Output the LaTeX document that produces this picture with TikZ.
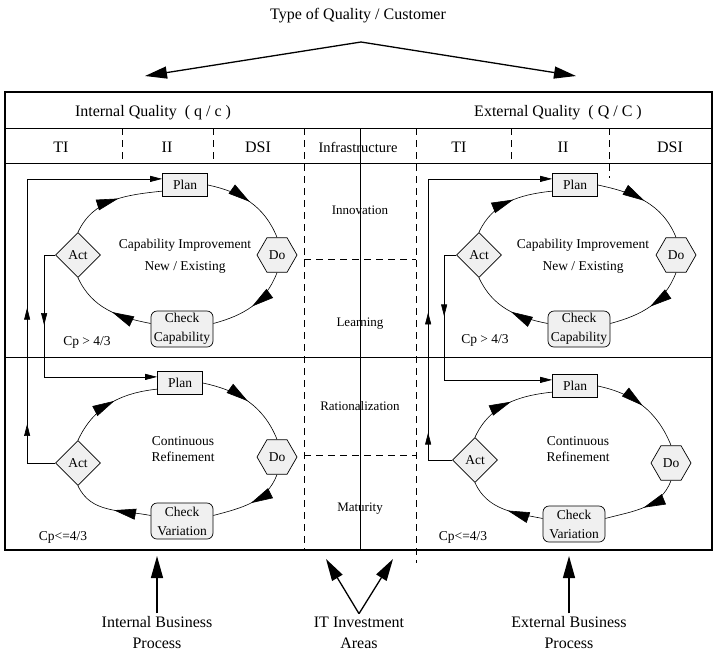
\documentclass[tikz,border=0pt]{standalone}
\usepackage{fontspec}
\setmainfont{Liberation Serif}
\usetikzlibrary{shapes.geometric,arrows.meta,decorations.markings}

\begin{document}
\begin{tikzpicture}[x=1pt,y=-1pt,
    every node/.style={font=\fontsize{13.5}{16}\selectfont},
    headtext/.style={font=\fontsize{16}{21}\selectfont, align=center},
    colltext/.style={font=\fontsize{13}{16}\selectfont},
    gridline/.style={line width=0.9pt},
    dashline/.style={line width=0.9pt, dash pattern=on 7pt off 5pt},
    planbox/.style={draw, line width=0.7pt, fill=gray!12, minimum width=45pt, minimum height=23pt, inner sep=1pt},
    dobox/.style={draw, line width=0.7pt, fill=gray!12, regular polygon, regular polygon sides=6, minimum size=40pt, inner sep=0pt},
    actbox/.style={draw, line width=0.7pt, fill=gray!12, diamond, minimum width=45pt, minimum height=45pt, inner sep=0pt},
    checkbox/.style={draw, line width=0.7pt, fill=gray!12, rounded corners=6pt, minimum width=62pt, minimum height=36pt, inner sep=1pt, align=center, font=\fontsize{13.5}{19}\selectfont},
    arcmark/.style={line width=0.6pt, postaction={decorate}, decoration={markings, mark=at position #1 with {\arrow{Triangle[length=22pt,width=11pt]}}}},
    flowline/.style={line width=0.6pt, -{Triangle[length=12pt,width=6pt]}},
    flowmark/.style={postaction={decorate, decoration={markings, mark=at position #1 with {\arrow{Triangle[length=12pt,width=6pt]}}}}},
    bigarrow/.style={line width=1.3pt, -{Triangle[length=22pt,width=12pt]}}
]
    \useasboundingbox (0,0) rectangle (714,657);

% quality type
    \node[headtext] (type) at (358,16) {Type of Quality / Customer};
    \coordinate (apex) at (361,42);
    \coordinate (intTip) at (145,76);
    \coordinate (extTip) at (576,76);
    \draw[bigarrow] (apex) -- (intTip);
    \draw[bigarrow] (apex) -- (extTip);

% frame
    \draw[line width=1.6pt] (5,92) rectangle (712,550);
    \draw[gridline] (5,128) -- (712,128);
    \draw[gridline] (5,163) -- (712,163);
    \draw[gridline] (5,357) -- (712,357);
    \draw[gridline] (360,128) -- (360,550);
    \draw[dashline] (304,128) -- (304,550);
    \draw[dashline] (416,128) -- (416,563);
    \draw[dashline] (122,128) -- (122,163);
    \draw[dashline] (213,128) -- (213,163);
    \draw[dashline] (511,128) -- (511,163);
    \draw[dashline] (609,128) -- (609,178);
    \draw[dashline] (304,259) -- (416,259);
    \draw[dashline] (304,455) -- (416,455);

    \node[headtext] (intQ) at (153,113) {Internal Quality\enspace( q / c )};
    \node[headtext] (extQ) at (558,113) {External Quality\enspace( Q / C )};

    \node[headtext] (TI1) at (61,147) {TI};
    \node[headtext] (II1) at (167,147) {II};
    \node[headtext] (DSI1) at (258,147) {DSI};
    \node[font=\fontsize{14.5}{16}\selectfont] (infra) at (358,147) {Infrastructure};
    \node[headtext] (TI2) at (459,147) {TI};
    \node[headtext] (II2) at (563,147) {II};
    \node[headtext] (DSI2) at (670,147) {DSI};

    \node[colltext] (innov) at (360,210) {Innovation};
    \node[colltext] (learn) at (360,324) {Learning};
    \node[colltext] (ratio) at (360,406) {Rationalization};
    \node[colltext] (matur) at (360,509) {Maturity};

% internal, capability improvement
    \node[planbox] (P1) at (185,185) {Plan};
    \node[dobox] (D1) at (277,255) {Do};
    \node[checkbox] (C1) at (182,329) {Check\\Capability};
    \node[actbox] (A1) at (78,255) {Act};
    \draw[arcmark=0.55] (A1.north) to[out=65,in=186] (P1.195);
    \draw[arcmark=0.5] (P1.east) to[out=-12,in=112] (D1.north);
    \draw[arcmark=0.5] (D1.south) to[out=-111,in=15] (C1.10);
    \draw[arcmark=0.45] (C1.170) to[out=169,in=-65] (A1.south);
    \node[align=center] (ci1) at (185,256) {Capability Improvement\\[6pt]New / Existing};
    \node (cp1) at (87,342) {Cp > 4/3};

% internal, continuous refinement
    \node[planbox] (P2) at (180,383) {Plan};
    \node[dobox] (D2) at (277,457) {Do};
    \node[checkbox] (C2) at (182,521) {Check\\Variation};
    \node[actbox] (A2) at (78,463) {Act};
    \draw[arcmark=0.55] (A2.north) to[out=65,in=186] (P2.195);
    \draw[arcmark=0.5] (P2.east) to[out=-12,in=112] (D2.north);
    \draw[arcmark=0.5] (D2.south) to[out=-111,in=15] (C2.10);
    \draw[arcmark=0.45] (C2.170) to[out=169,in=-65] (A2.south);
    \node[align=center] (cr1) at (183,449) {Continuous\\Refinement};
    \node (cp2) at (63,537) {Cp<=4/3};

    \draw[flowline, flowmark=0.33] (A1.west) -- ++(-11,0) |- (P2.165);
    \draw[flowline, flowmark=0.15, flowmark=0.41] (A2.west) -- ++(-28,0) |- (P1.165);

% external, capability improvement
    \node[planbox] (P3) at (575,185) {Plan};
    \node[dobox] (D3) at (676,255) {Do};
    \node[checkbox] (C3) at (579,329) {Check\\Capability};
    \node[actbox] (A3) at (479,255) {Act};
    \draw[arcmark=0.55] (A3.north) to[out=65,in=186] (P3.195);
    \draw[arcmark=0.5] (P3.east) to[out=-12,in=112] (D3.north);
    \draw[arcmark=0.5] (D3.south) to[out=-111,in=15] (C3.10);
    \draw[arcmark=0.45] (C3.170) to[out=169,in=-65] (A3.south);
    \node[align=center] (ci2) at (583,256) {Capability Improvement\\[6pt]New / Existing};
    \node (cp3) at (485,340) {Cp > 4/3};

% external, continuous refinement
    \node[planbox] (P4) at (575,386) {Plan};
    \node[dobox] (D4) at (671,463) {Do};
    \node[checkbox] (C4) at (574,524) {Check\\Variation};
    \node[actbox] (A4) at (475,460) {Act};
    \draw[arcmark=0.55] (A4.north) to[out=65,in=186] (P4.195);
    \draw[arcmark=0.5] (P4.east) to[out=-12,in=112] (D4.north);
    \draw[arcmark=0.5] (D4.south) to[out=-111,in=15] (C4.10);
    \draw[arcmark=0.45] (C4.170) to[out=169,in=-65] (A4.south);
    \node[align=center] (cr2) at (578,449) {Continuous\\Refinement};
    \node (cp4) at (463,537) {Cp<=4/3};

    \draw[flowline, flowmark=0.30] (A3.west) -- ++(-12,0) |- (P4.165);
    \draw[flowline, flowmark=0.12, flowmark=0.40] (A4.west) -- ++(-24,0) |- (P3.165);

% processes and areas
    \node[headtext] (ibp) at (157,633) {Internal Business\\Process};
    \node[headtext] (ita) at (359,633) {IT Investment\\Areas};
    \node[headtext] (ebp) at (569,633) {External Business\\Process};
    \coordinate (ibpTip) at (157,556);
    \coordinate (itL) at (326,559);
    \coordinate (itR) at (393,559);
    \coordinate (ebpTip) at (569,556);
    \draw[bigarrow] (ibp.north) -- (ibpTip);
    \draw[bigarrow] (ita.north) -- (itL);
    \draw[bigarrow] (ita.north) -- (itR);
    \draw[bigarrow] (ebp.north) -- (ebpTip);

\end{tikzpicture}
\end{document}
